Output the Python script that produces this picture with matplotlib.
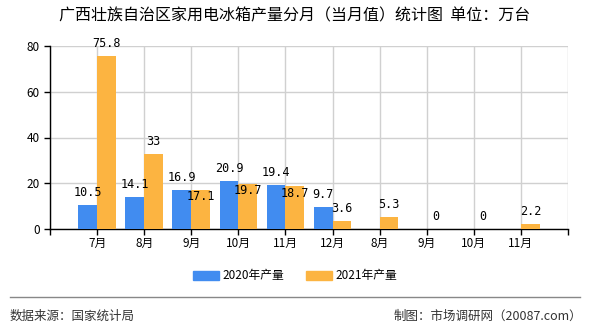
import matplotlib
matplotlib.use("Agg")
import matplotlib.pyplot as plt
from matplotlib.lines import Line2D
from matplotlib.patches import Patch

plt.rcParams['font.family'] = ['Noto Sans CJK SC', 'DejaVu Sans']

# data
months = ["7月", "8月", "9月", "10月", "11月", "12月", "8月", "9月", "10月", "11月"]
prod_2020 = [10.5, 14.1, 16.9, 20.9, 19.4, 9.7]
prod_2021 = [75.8, 33, 17.1, 19.7, 18.7, 3.6, 5.3, 0, 0, 2.2]
series_names = ["2020年产量", "2021年产量"]
yticks = [0, 20, 40, 60, 80]

blue = '#418cf0'
orange = '#fcb441'
w = 0.4

fig = plt.figure(figsize=(5.9, 3.3), dpi=100)
ax = fig.add_axes([50/590, 1-229/330, 518/590, 183/330])

xs = list(range(1, len(months) + 1))
x20 = [x - w/2 for x in xs[:len(prod_2020)]]
x21 = [x + w/2 for x in xs]
ax.bar(x20, prod_2020, width=w, color=blue, zorder=3)
ax.bar(x21, prod_2021, width=w, color=orange, zorder=3)

lab_font = dict(family=['DejaVu Sans Mono'], fontsize=8.5, ha='center', va='center', zorder=4)
for x, v in zip(x20, prod_2020):
    ax.annotate(f"{v:g}", (x, v), xytext=(0, 9), textcoords='offset points', **lab_font)
# labels of the orange bars that sit next to a tall blue bar go inside
inside = {2, 3, 4}
for i, (x, v) in enumerate(zip(x21, prod_2021)):
    dy = -5 if i in inside else 9
    ax.annotate(f"{v:g}", (x, v), xytext=(0, dy), textcoords='offset points', **lab_font)

ax.set_xlim(0, len(months) + 1)
ax.set_ylim(0, 80)
ax.set_yticks(yticks)
ax.set_xticks(range(0, len(months) + 2))
ax.set_xticklabels([""] + months + [""])
ax.tick_params(axis='both', labelsize=8.5, colors='black', length=4, width=1, direction='out')
ax.tick_params(axis='x', pad=2)
ax.grid(True, color='#d0d0d0', linewidth=1, zorder=0)
for s in ['top', 'right']:
    ax.spines[s].set_visible(False)
for s in ['left', 'bottom']:
    ax.spines[s].set_color('black')
    ax.spines[s].set_linewidth(1)

fig.text(0.5, 1-16/330, "广西壮族自治区家用电冰箱产量分月（当月值）统计图  单位：万台",
         ha='center', va='center', fontsize=11.5)

handles = [Patch(color=blue), Patch(color=orange)]
fig.legend(handles, series_names, loc='center', bbox_to_anchor=(0.5, 1-276/330), ncol=2,
           frameon=False, fontsize=8.5, handlelength=2.2, handleheight=0.8, columnspacing=1.8,
           handletextpad=0.3)

fig.add_artist(Line2D([10/590, 580/590], [1-297/330, 1-297/330], color='#888888', linewidth=1))
fig.text(10/590, 1-316/330, "数据来源：国家统计局", ha='left', va='center', fontsize=9, color='#333333')
fig.text(582/590, 1-316/330, "制图：市场调研网（20087.com）", ha='right', va='center', fontsize=9, color='#333333')

fig.savefig("out.png", dpi=100)
